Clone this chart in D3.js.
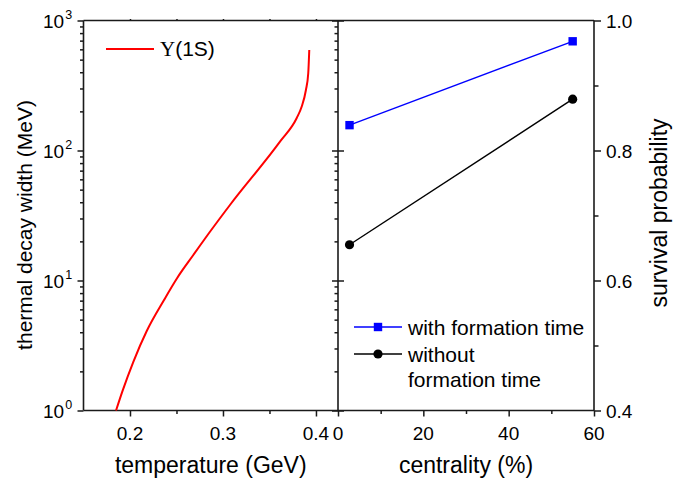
<!DOCTYPE html>
<html><head><meta charset="utf-8">
<script src="https://cdn.jsdelivr.net/npm/d3@7"></script>
<style>
body{margin:0;background:#fff;}
svg{display:block;font-family:"Liberation Sans",Arial,sans-serif;}
</style></head>
<body><svg id="c" width="680" height="479"></svg>
<script>
// Left panel: thermal decay width of Upsilon(1S) vs temperature
const temperature = [0.185,0.1919,0.2036,0.2180,0.2366,0.2511,0.2681,0.2860,0.3075,0.3613,0.3792,0.3846,0.3892,0.3917,0.3928];
const decayWidth  = [1.0,1.41,2.37,4.09,7.08,10.55,15.7,23.7,38.1,117,177,217,292,393,593];
// Right panel: survival probability vs centrality
const centrality = [2.7, 55];
const withFormation = [0.839, 0.968];
const withoutFormation = [0.655, 0.879];
// tick labels
const tempTicks = [0.2,0.3,0.4];
const tempTickLabels = ["0.2","0.3","0.4"];
const widthTicks = [1,10,100,1000];
const widthTickExp = ["0","1","2","3"];
const centTicks = [0,20,40,60];
const centTickLabels = ["0","20","40","60"];
const probTicks = [0.4,0.6,0.8,1.0];
const probTickLabels = ["0.4","0.6","0.8","1.0"];

const svg = d3.select("#c");
const yTop=20.5, yBot=410.5, xL=83.5, xM=338, xR=594;
const AX="#1a1a1a";

const xT = d3.scaleLinear().domain([0.15,0.4237]).range([xL,xM]);
const yW = d3.scaleLog().domain([1,1000]).range([yBot,yTop]);
const xC = d3.scaleLinear().domain([0,60]).range([xM,xR]);
const yP = d3.scaleLinear().domain([0.4,1.0]).range([yBot,yTop]);

function styleAxis(g){
  g.select(".domain").remove();
  g.selectAll("line").attr("stroke",AX).attr("stroke-width",1.5);
  g.selectAll("text").remove();
}
const logMinor=[];
for(let d=1; d<1000; d*=10) for(let k=2;k<=9;k++) logMinor.push(d*k);

svg.append("g").attr("transform",`translate(${xL},0)`).call(d3.axisLeft(yW).tickValues(widthTicks).tickSize(6)).call(styleAxis);
svg.append("g").attr("transform",`translate(${xL},0)`).call(d3.axisLeft(yW).tickValues(logMinor).tickSize(3.5)).call(styleAxis);
svg.append("g").attr("transform",`translate(${xM},0)`).call(d3.axisLeft(yW).tickValues(widthTicks).tickSize(6)).call(styleAxis);
svg.append("g").attr("transform",`translate(${xM},0)`).call(d3.axisRight(yW).tickValues(widthTicks).tickSize(6)).call(styleAxis);
svg.append("g").attr("transform",`translate(${xM},0)`).call(d3.axisLeft(yW).tickValues(logMinor).tickSize(3.5)).call(styleAxis);
svg.append("g").attr("transform",`translate(0,${yBot})`).call(d3.axisBottom(xT).tickValues(tempTicks).tickSize(6)).call(styleAxis);
svg.append("g").attr("transform",`translate(0,${yBot})`).call(d3.axisBottom(xT).tickValues([0.25,0.35]).tickSize(3.5)).call(styleAxis);
svg.append("g").attr("transform",`translate(0,${yTop})`).call(d3.axisTop(xT).tickValues([0.2,0.25,0.3,0.35,0.4]).tickSize(1.5)).call(styleAxis);
svg.append("g").attr("transform",`translate(0,${yBot})`).call(d3.axisBottom(xC).tickValues(centTicks).tickSize(6)).call(styleAxis);
svg.append("g").attr("transform",`translate(0,${yBot})`).call(d3.axisBottom(xC).tickValues([10,30,50]).tickSize(3.5)).call(styleAxis);
svg.append("g").attr("transform",`translate(${xR},0)`).call(d3.axisRight(yP).tickValues(probTicks).tickSize(7)).call(styleAxis);
svg.append("g").attr("transform",`translate(${xR},0)`).call(d3.axisRight(yP).tickValues([0.5,0.7,0.9]).tickSize(4.5)).call(styleAxis);

const frame = svg.append("g").attr("stroke",AX).attr("stroke-width",1.6).attr("fill","none");
frame.append("path").attr("d",`M${xL},${yTop}H${xR}`);
frame.append("path").attr("d",`M${xL},${yBot}H${xR}`);
frame.append("path").attr("d",`M${xL},${yTop}V${yBot}`);
frame.append("path").attr("d",`M${xM},${yTop}V${yBot}`);
frame.append("path").attr("d",`M${xR},${yTop}V${yBot}`);

const tl = svg.append("g").attr("font-size",19).attr("fill","#000");
tempTicks.forEach((t,i)=>tl.append("text").attr("x",xT(t)).attr("y",439.5).attr("text-anchor","middle").text(tempTickLabels[i]));
centTicks.forEach((t,i)=>tl.append("text").attr("x",xC(t)).attr("y",439.5).attr("text-anchor","middle").text(centTickLabels[i]));
probTicks.forEach((t,i)=>tl.append("text").attr("x",606).attr("y",yP(t)+7).text(probTickLabels[i]));
widthTicks.forEach((t,i)=>{
  const tx=tl.append("text").attr("x",43).attr("y",yW(t)+7.5);
  tx.append("tspan").text("10");
  tx.append("tspan").attr("font-size",12.5).attr("dy",-9.5).attr("dx",1).text(widthTickExp[i]);
});

const at = svg.append("g").attr("font-size",23).attr("fill","#000");
at.append("text").attr("x",(xL+xM)/2).attr("y",473).attr("text-anchor","middle").text("temperature (GeV)");
at.append("text").attr("x",(xM+xR)/2).attr("y",473).attr("text-anchor","middle").text("centrality (%)");
at.append("text").attr("transform","translate(32,225) rotate(-90)").attr("text-anchor","middle").attr("font-size",21).text("thermal decay width (MeV)");
at.append("text").attr("transform","translate(667,213) rotate(-90)").attr("text-anchor","middle").text("survival probability");

const curve = d3.line().x(d=>xT(d[0])).y(d=>yW(d[1])).curve(d3.curveMonotoneX);
svg.append("path").datum(temperature.map((t,i)=>[t,decayWidth[i]]))
  .attr("d",curve).attr("fill","none").attr("stroke","#ff0000").attr("stroke-width",2);

const lp = d3.line().x(d=>xC(d[0])).y(d=>yP(d[1]));
const wf = centrality.map((c,i)=>[c,withFormation[i]]);
const nf = centrality.map((c,i)=>[c,withoutFormation[i]]);
svg.append("path").datum(wf).attr("d",lp).attr("fill","none").attr("stroke","#0000ff").attr("stroke-width",1.4);
svg.append("path").datum(nf).attr("d",lp).attr("fill","none").attr("stroke","#000").attr("stroke-width",1.4);
svg.selectAll(".sq").data(wf).join("rect").attr("x",d=>xC(d[0])-4.2).attr("y",d=>yP(d[1])-4.2).attr("width",8.4).attr("height",8.4).attr("fill","#0000ff");
svg.selectAll(".ci").data(nf).join("circle").attr("cx",d=>xC(d[0])).attr("cy",d=>yP(d[1])).attr("r",4.6).attr("fill","#000");

const lg = svg.append("g").attr("font-size",21);
lg.append("line").attr("x1",106).attr("x2",154).attr("y1",49).attr("y2",49).attr("stroke","#ff0000").attr("stroke-width",2);
const ut = lg.append("text").attr("x",160).attr("y",56);
ut.append("tspan").attr("font-family","'Liberation Serif','Times New Roman',serif").text("Υ");
ut.append("tspan").text("(1S)");

lg.append("line").attr("x1",354).attr("x2",402).attr("y1",327).attr("y2",327).attr("stroke","#0000ff").attr("stroke-width",1.4);
lg.append("rect").attr("x",378-4.2).attr("y",327-4.2).attr("width",8.4).attr("height",8.4).attr("fill","#0000ff");
lg.append("text").attr("x",408).attr("y",334.5).text("with formation time");
lg.append("line").attr("x1",354).attr("x2",402).attr("y1",354).attr("y2",354).attr("stroke","#000").attr("stroke-width",1.4);
lg.append("circle").attr("cx",378).attr("cy",354).attr("r",4.6).attr("fill","#000");
lg.append("text").attr("x",408).attr("y",361.5).text("without");
lg.append("text").attr("x",408).attr("y",387).text("formation time");
</script></body></html>
